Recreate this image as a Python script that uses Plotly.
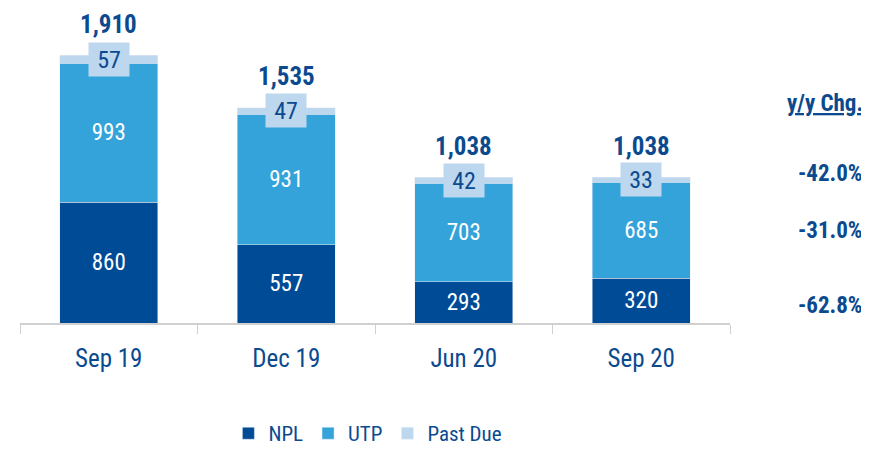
import plotly.graph_objects as go

categories = ["Sep 19", "Dec 19", "Jun 20", "Sep 20"]
npl = [860, 557, 293, 320]
utp = [993, 931, 703, 685]
past_due = [57, 47, 42, 33]
totals = [1910, 1535, 1038, 1038]
yoy_title = "y/y Chg."
yoy_labels = ["-42.0%", "-31.0%", "-62.8%"]  # Past Due, UTP, NPL

FONT = "Liberation Sans Narrow, Arial Narrow, Roboto Condensed, Liberation Sans, sans-serif"
TXT = "#0B4A8F"
C_NPL = "#004B96"
C_UTP = "#33A3DA"
C_PD = "#BDD7EE"

fig = go.Figure()
fig.add_bar(x=categories, y=npl, name="NPL", marker_color=C_NPL,
            text=[str(v) for v in npl], textposition="inside", insidetextanchor="middle",
            textfont=dict(color="white", size=23, family=FONT), textangle=0)
fig.add_bar(x=categories, y=utp, name="UTP", marker_color=C_UTP,
            text=[str(v) for v in utp], textposition="inside", insidetextanchor="middle",
            textfont=dict(color="white", size=23, family=FONT), textangle=0)
fig.add_bar(x=categories, y=past_due, name="Past Due", marker_color=C_PD,
            textposition="none")

ann = []
for c, n, u, p, t in zip(categories, npl, utp, past_due, totals):
    ann.append(dict(x=c, y=n + u + p / 2, xref="x", yref="y", text=str(p), showarrow=False,
                    bgcolor=C_PD, borderpad=4, width=32, height=25,
                    font=dict(color=TXT, size=24, family=FONT)))
    ann.append(dict(x=c, y=t, xref="x", yref="y", text="<b>{:,}</b>".format(t), showarrow=False,
                    yshift=31, font=dict(color=TXT, size=25, family=FONT)))

# y/y change column, aligned with the last bar's segments
last = len(categories) - 1
ann.append(dict(x=1.19, xref="paper", y=totals[last], yref="y", yshift=74, xanchor="right",
                text="<b><u>" + yoy_title + "</u></b>", showarrow=False,
                font=dict(color=TXT, size=23, family=FONT)))
seg_mid = [npl[last] + utp[last] + past_due[last],
           npl[last] + utp[last] / 2,
           npl[last] / 2]
for lbl, yv, sh in zip(yoy_labels, seg_mid, [4, 0, -5]):
    ann.append(dict(x=1.19, xref="paper", y=yv, yref="y", yshift=sh, xanchor="right",
                    text="<b>" + lbl + "</b>", showarrow=False,
                    font=dict(color=TXT, size=23, family=FONT)))

# the page body adds an 8px offset; size the figure so it fits the 869x449 window
fig.update_layout(
    barmode="stack", bargap=0.45,
    width=861, height=441,
    margin=dict(l=12, r=139, t=12, b=126, autoexpand=False),
    plot_bgcolor="white", paper_bgcolor="white",
    font=dict(family=FONT, color=TXT),
    annotations=ann,
    legend=dict(orientation="h", x=0.49, xanchor="center", y=-0.365, yanchor="middle",
                font=dict(size=21, color=TXT, family=FONT), traceorder="normal",
                itemwidth=30),
    xaxis=dict(showline=True, linecolor="#D0D0D0", linewidth=1.5, ticks="outside",
               tickson="boundaries", ticklen=9, tickcolor="#D0D0D0",
               tickfont=dict(size=25, color=TXT, family=FONT), ticklabelstandoff=12),
    yaxis=dict(visible=False, range=[0, 2160]),
    showlegend=True,
)
fig.write_html("out.html")
